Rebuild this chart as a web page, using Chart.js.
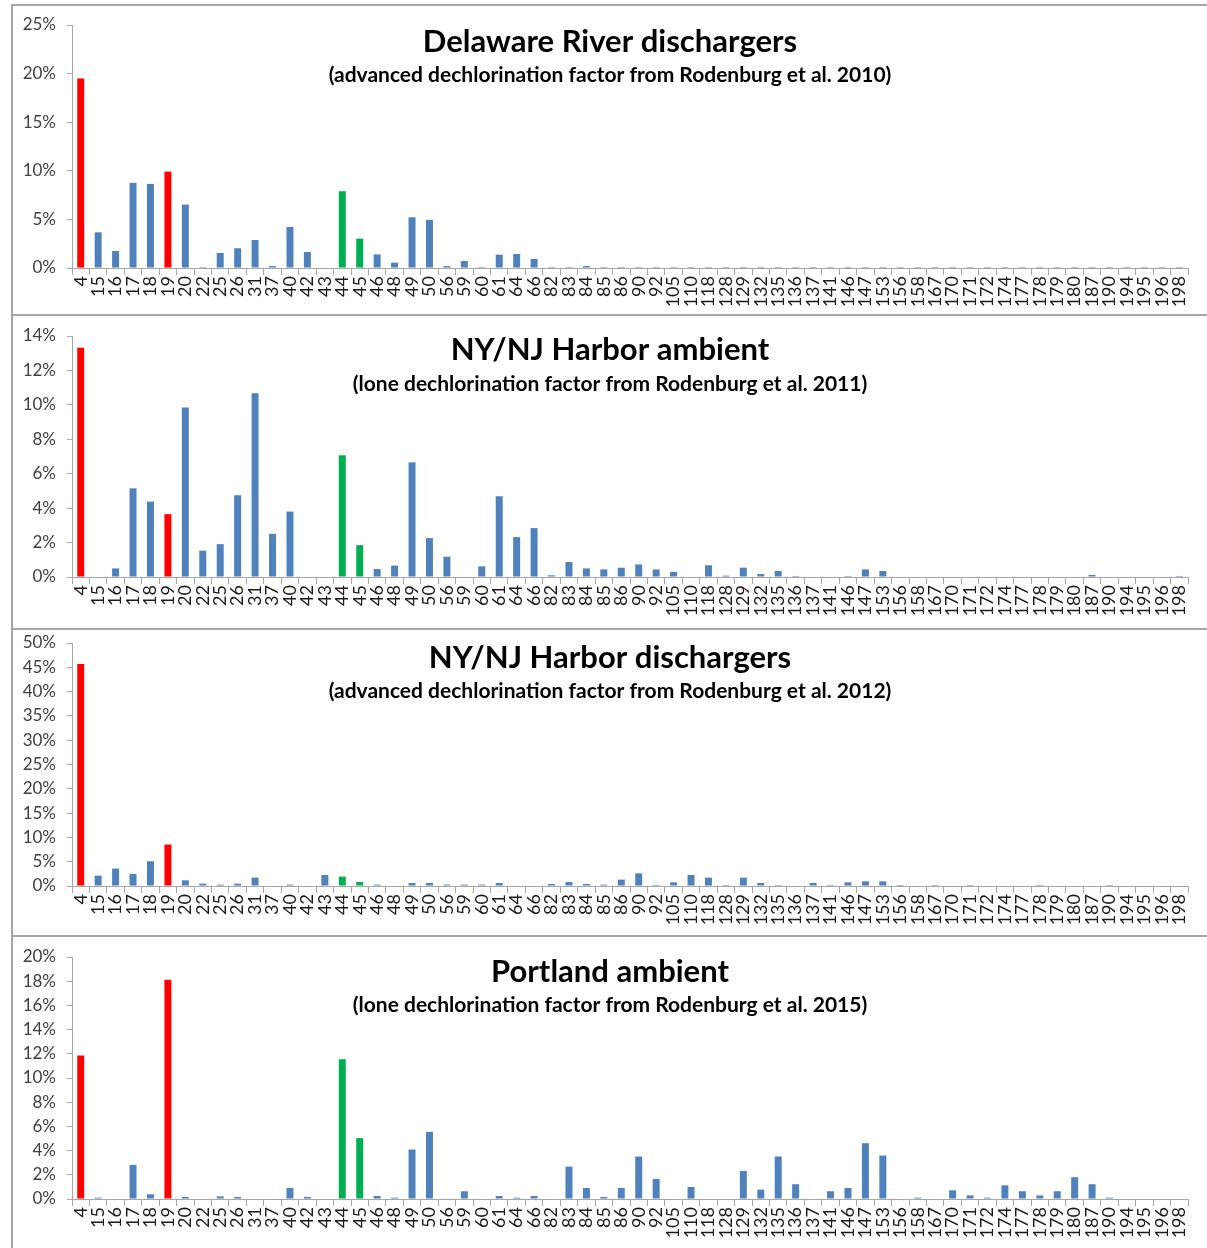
<!DOCTYPE html>
<html>
<head>
<meta charset="utf-8">
<title>Dechlorination factor profiles</title>
<script src="https://cdn.jsdelivr.net/npm/chart.js@4.4.1/dist/chart.umd.min.js"></script>
<style>
  body { margin: 0; background: #fff; width: 1207px; height: 1248px; overflow: hidden; position: relative; }
  .panel { position: absolute; left: 11px; width: 1220px; border-top: 2px solid #a6a6a6; border-left: 2px solid #a6a6a6; }
  canvas { position: absolute; left: 0; }
</style>
</head>
<body>
<div class="panel" style="top:4px;height:308px"></div>
<div class="panel" style="top:314px;height:312px"></div>
<div class="panel" style="top:628px;height:305px"></div>
<div class="panel" style="top:935px;height:330px"></div>
<canvas id="c1" width="1207" height="308" style="top:5px"></canvas>
<canvas id="c2" width="1207" height="311" style="top:316px"></canvas>
<canvas id="c3" width="1207" height="304" style="top:630px"></canvas>
<canvas id="c4" width="1207" height="311" style="top:937px"></canvas>
<script>
const categories = ['4', '15', '16', '17', '18', '19', '20', '22', '25', '26', '31', '37', '40', '42', '43', '44',
  '45', '46', '48', '49', '50', '56', '59', '60', '61', '64', '66', '82', '83', '84', '85', '86',
  '90', '92', '105', '110', '118', '128', '129', '132', '135', '136', '137', '141', '146', '147', '153', '156',
  '158', '167', '170', '171', '172', '174', '177', '178', '179', '180', '187', '190', '194', '195', '196', '198'];

// percent of total
const delawareDischargers = [19.5, 3.67, 1.75, 8.76, 8.65, 9.92, 6.52, 0.1, 1.55, 2.03, 2.88, 0.2, 4.22, 1.65, 0, 7.9,
  3.02, 1.4, 0.55, 5.22, 4.95, 0.2, 0.72, 0.1, 1.37, 1.44, 0.93, 0.1, 0.1, 0.2, 0.1, 0.1,
  0.1, 0.1, 0.1, 0.1, 0.1, 0.1, 0.1, 0.1, 0.1, 0.1, 0.1, 0.1, 0.1, 0.1, 0.1, 0.1,
  0.1, 0.1, 0.1, 0.1, 0.1, 0.1, 0.1, 0.1, 0.1, 0.1, 0.1, 0.1, 0.1, 0.1, 0.1, 0.1];

const harborAmbient = [13.32, 0, 0.5, 5.15, 4.38, 3.65, 9.85, 1.53, 1.91, 4.75, 10.68, 2.51, 3.8, 0, 0, 7.07,
  1.85, 0.46, 0.66, 6.66, 2.26, 1.18, 0, 0.62, 4.69, 2.32, 2.84, 0.1, 0.87, 0.5, 0.44, 0.54,
  0.73, 0.44, 0.29, 0, 0.68, 0.08, 0.54, 0.17, 0.35, 0.06, 0, 0, 0.06, 0.44, 0.35, 0,
  0, 0, 0, 0, 0, 0, 0, 0, 0, 0, 0.12, 0, 0, 0, 0, 0.06];

const harborDischargers = [45.7, 2.13, 3.58, 2.48, 5.09, 8.53, 1.17, 0.48, 0.28, 0.48, 1.72, 0, 0.28, 0, 2.27, 1.93,
  0.83, 0.28, 0, 0.62, 0.62, 0.28, 0.28, 0.28, 0.62, 0, 0, 0.41, 0.83, 0.41, 0.28, 1.31,
  2.61, 0.2, 0.76, 2.27, 1.72, 0.2, 1.72, 0.62, 0.2, 0, 0.62, 0.2, 0.76, 0.96, 0.96, 0.2,
  0, 0.2, 0, 0.2, 0, 0, 0, 0.2, 0, 0, 0, 0.2, 0, 0, 0, 0];

const portlandAmbient = [11.85, 0.11, 0, 2.82, 0.39, 18.12, 0.17, 0, 0.22, 0.17, 0, 0, 0.91, 0.17, 0, 11.55,
  5.03, 0.25, 0.11, 4.09, 5.55, 0, 0.64, 0, 0.25, 0.11, 0.25, 0, 2.68, 0.91, 0.17, 0.91,
  3.51, 1.66, 0, 0.99, 0, 0, 2.32, 0.77, 3.51, 1.22, 0, 0.64, 0.91, 4.61, 3.59, 0,
  0.11, 0, 0.72, 0.3, 0.11, 1.13, 0.64, 0.3, 0.64, 1.8, 1.22, 0.11, 0, 0, 0, 0];

const redCongeners = ['4', '19'];
const greenCongeners = ['44', '45'];

function barColor(c) {
  if (redCongeners.includes(c)) return '#ff0000';
  if (greenCongeners.includes(c)) return '#00b050';
  return '#4f81bd';
}

const panelTitles = {
  id: 'panelTitles',
  afterDraw(chart, args, opts) {
    const ctx = chart.ctx;
    ctx.save();
    ctx.fillStyle = '#000';
    ctx.textAlign = 'center';
    ctx.textBaseline = 'middle';
    ctx.font = 'bold 31px Lato';
    ctx.fillText(opts.title, 610, opts.titleY);
    ctx.font = 'bold 21px Lato';
    ctx.fillText(opts.sub, 610, opts.subY);
    ctx.restore();
  }
};

const panels = [
  { id: 'c1', values: delawareDischargers, max: 25, step: 5, top: 20, bottom: 263, titleY: 37, subY: 70,
    title: 'Delaware River dischargers', sub: '(advanced dechlorination factor from Rodenburg et al. 2010)' },
  { id: 'c2', values: harborAmbient, max: 14, step: 2, top: 20, bottom: 261, titleY: 34, subY: 68,
    title: 'NY/NJ Harbor ambient', sub: '(lone dechlorination factor from Rodenburg et al. 2011)' },
  { id: 'c3', values: harborDischargers, max: 50, step: 5, top: 13, bottom: 256, titleY: 28, subY: 61,
    title: 'NY/NJ Harbor dischargers', sub: '(advanced dechlorination factor from Rodenburg et al. 2012)' },
  { id: 'c4', values: portlandAmbient, max: 20, step: 2, top: 20, bottom: 262, titleY: 35, subY: 68,
    title: 'Portland ambient', sub: '(lone dechlorination factor from Rodenburg et al. 2015)' }
];

Chart.defaults.font.family = 'Lato';
Chart.defaults.color = '#404040';

panels.forEach(p => {
  const canvas = document.getElementById(p.id);
  const h = canvas.height;
  new Chart(canvas, {
    type: 'bar',
    data: {
      labels: categories,
      datasets: [{
        data: p.values,
        backgroundColor: categories.map(barColor),
        barPercentage: 0.4,
        categoryPercentage: 1
      }]
    },
    options: {
      responsive: false,
      animation: false,
      layout: { padding: { left: 0, right: 19, top: p.top, bottom: 0 } },
      plugins: {
        legend: { display: false },
        tooltip: { enabled: false },
        panelTitles: { title: p.title, sub: p.sub, titleY: p.titleY, subY: p.subY }
      },
      scales: {
        x: {
          grid: { offset: true, drawOnChartArea: false, tickLength: 7, color: '#a6a6a6' },
          border: { color: '#a6a6a6' },
          ticks: { autoSkip: false, minRotation: 90, maxRotation: 90, padding: 1, font: { size: 18 }, color: '#1a1a1a' },
          afterFit: s => { s.height = h - p.bottom; s.paddingLeft = 0; s.paddingRight = 0; }
        },
        y: {
          min: 0,
          max: p.max,
          grid: { drawOnChartArea: false, tickLength: 5, color: '#a6a6a6' },
          border: { color: '#a6a6a6' },
          ticks: { stepSize: p.step, padding: 11, font: { size: 17 }, callback: v => v + '%' },
          afterFit: s => { s.width = 72; s.paddingTop = 0; s.paddingBottom = 0; }
        }
      }
    },
    plugins: [panelTitles]
  });
});
</script>
</body>
</html>
